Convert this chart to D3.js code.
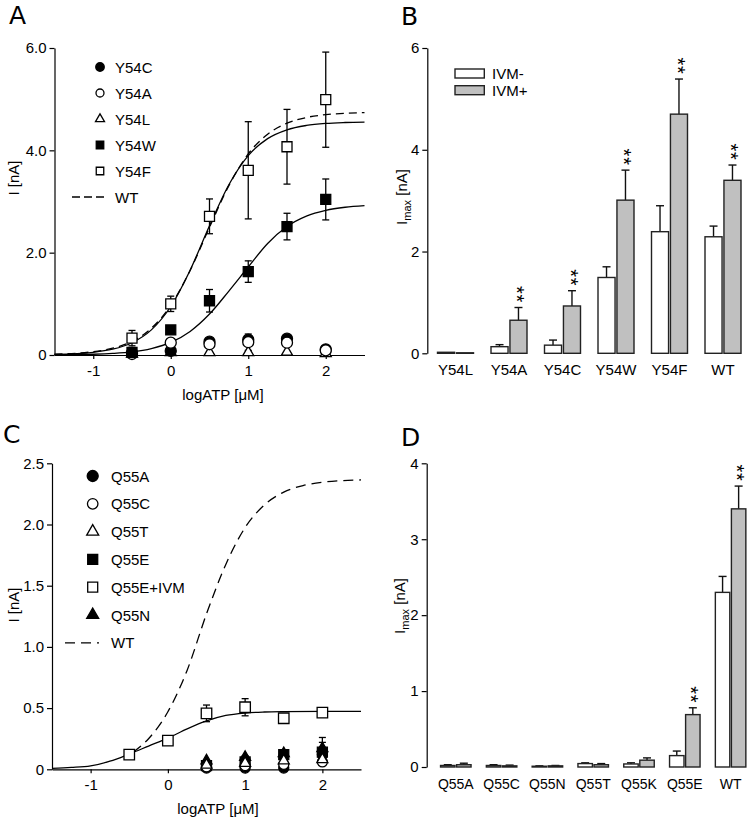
<!DOCTYPE html>
<html><head><meta charset="utf-8">
<script src="https://cdn.jsdelivr.net/npm/d3@7"></script>
<style>body{margin:0;background:#fff}svg{display:block}</style>
</head><body>
<script>
// ================= DATA =================
const doseX = [-0.5, 0, 0.5, 1, 1.5, 2];
const doseTicks = [-1, 0, 1, 2];

// ---- Panel A (Y54 mutants, I [nA]) ----
const Y54C = [0.04, 0.08, 0.26, 0.30, 0.32, 0.11];
const Y54A = [0.02, 0.24, 0.21, 0.25, 0.24, 0.09];
const Y54L = [0.02, 0.05, 0.05, 0.05, 0.06, 0.03];
const Y54W = [0.05, 0.49, 1.06, 1.63, 2.51, 3.04];
const Y54F = [0.33, 1.00, 2.71, 3.61, 4.07, 4.99];
const Y54A_err = [0, 0, 0.06, 0.16, 0.05, 0];
const Y54W_err = [0, 0, 0.22, 0.21, 0.26, 0.40];
const Y54F_err = [0.15, 0.15, 0.34, 0.95, 0.73, 0.93];
const yTicksA = [0, 2, 4, 6];
// fitted curves
const fitX_A = [-1.5, -1, -0.75, -0.5, -0.25, 0, 0.25, 0.5, 0.75, 1, 1.25, 1.5, 1.75, 2, 2.25, 2.5];
const fitWT_A = [0.015, 0.065, 0.132, 0.267, 0.523, 0.971, 1.652, 2.496, 3.310, 3.929, 4.315, 4.530, 4.642, 4.697, 4.724, 4.738];
const fitY54F = [0.011, 0.053, 0.113, 0.240, 0.491, 0.948, 1.658, 2.527, 3.328, 3.897, 4.229, 4.402, 4.486, 4.526, 4.544, 4.553];
const fitY54W = [0.004, 0.015, 0.030, 0.060, 0.125, 0.245, 0.46, 0.80, 1.25, 1.72, 2.179, 2.510, 2.714, 2.828, 2.888, 2.919];

// ---- Panel B (Imax, Y54) ----
const catsB = ["Y54L", "Y54A", "Y54C", "Y54W", "Y54F", "WT"];
const ivmMinusB = [0.02, 0.13, 0.16, 1.49, 2.39, 2.29];
const ivmMinusErrB = [0, 0.04, 0.10, 0.21, 0.51, 0.21];
const ivmPlusB = [0.01, 0.65, 0.93, 3.01, 4.70, 3.40];
const ivmPlusErrB = [0, 0.25, 0.30, 0.59, 0.69, 0.30];
const sigB = [false, true, true, true, true, true];
const yTicksB = [0, 2, 4, 6];
const groupsIVM = ["IVM-", "IVM+"];

// ---- Panel C (Q55 mutants, I [nA]) ----
const Q55A = [null, null, 0.01, 0.01, 0.01, 0.12];
const Q55C = [null, null, 0.02, 0.03, 0.04, 0.06];
const Q55T = [null, null, 0.035, 0.05, 0.07, 0.08];
const Q55E = [null, null, 0.03, 0.06, 0.12, 0.14];
const Q55E_err = [0, 0, 0, 0, 0.02, 0.08];
const Q55E_IVM = [0.12, 0.235, 0.457, 0.507, 0.417, 0.463];
const Q55E_IVM_err = [0.01, 0.035, 0.068, 0.07, 0.025, 0.035];
const Q55N = [null, null, 0.07, 0.10, 0.13, 0.17];
const Q55N_err = [0, 0, 0, 0.01, 0.02, 0.09];
const yTicksC = [0, 0.5, 1.0, 1.5, 2.0, 2.5];
const fitX_C = [-1.5, -1.25, -1, -0.75, -0.5, -0.25, 0, 0.25, 0.5, 0.75, 1, 1.25, 1.5, 2, 2.5];
const fitQ55E_IVM = [0.008, 0.015, 0.028, 0.066, 0.125, 0.19, 0.255, 0.33, 0.395, 0.44, 0.46, 0.468, 0.471, 0.473, 0.473];
const fitX_WT_C = [-0.45, -0.25, 0, 0.25, 0.5, 0.75, 1, 1.25, 1.5, 1.75, 2, 2.25, 2.5];
const fitWT_C = [0.14, 0.25, 0.47, 0.81, 1.27, 1.674, 1.975, 2.16, 2.265, 2.318, 2.345, 2.358, 2.364];

// ---- Panel D (Imax, Q55) ----
const catsD = ["Q55A", "Q55C", "Q55N", "Q55T", "Q55K", "Q55E", "WT"];
const ivmMinusD = [0.02, 0.02, 0.01, 0.045, 0.04, 0.15, 2.30];
const ivmMinusErrD = [0.01, 0.01, 0.005, 0.01, 0.015, 0.06, 0.21];
const ivmPlusD = [0.03, 0.015, 0.015, 0.03, 0.09, 0.69, 3.40];
const ivmPlusErrD = [0.02, 0.01, 0.005, 0.015, 0.03, 0.09, 0.30];
const sigD = [false, false, false, false, false, true, true];
const yTicksD = [0, 1, 2, 3, 4];

// ================= DRAWING =================
const FONT = "'Liberation Sans', Arial, Helvetica, sans-serif";
const svg = d3.select("body").append("svg").attr("width", 750).attr("height", 822)
  .style("font-family", FONT);

function symPath(type, px) {
  if (type === "circle") return d3.symbol(d3.symbolCircle, Math.PI * px * px / 4)();
  if (type === "square") return d3.symbol(d3.symbolSquare, px * px)();
  return d3.symbol(d3.symbolTriangle, Math.sqrt(3) / 4 * px * px)();
}

function styleAxis(g, fs) {
  g.selectAll("text").attr("font-size", fs).attr("fill", "#000").style("font-family", FONT);
  g.selectAll("line").attr("stroke", "#000").attr("stroke-width", 1.2);
  g.select(".domain").attr("stroke", "#000").attr("stroke-width", 1.2);
}

function panelLabel(txt, x, y) {
  svg.append("text").attr("x", x).attr("y", y).text(txt)
    .attr("font-size", 25).style("font-family", "'DejaVu Sans', sans-serif").attr("fill", "#000");
}

function yTitle(x, y, sub) {
  const t = svg.append("text").attr("transform", `translate(${x},${y}) rotate(-90)`)
    .attr("text-anchor", "middle").attr("font-size", 15).attr("fill", "#000");
  t.append("tspan").text("I");
  if (sub) {
    t.append("tspan").text("max").attr("font-size", 11).attr("dy", 4);
    t.append("tspan").text(" [nA]").attr("dy", -4);
  } else {
    t.append("tspan").text(" [nA]");
  }
}

function xTitle(x, y) {
  svg.append("text").attr("x", x).attr("y", y).attr("text-anchor", "middle")
    .attr("font-size", 15).attr("fill", "#000").text("logATP [μM]");
}

function errBars(g, xs, ys, errs, x, y, cap) {
  xs.forEach((xv, i) => {
    const v = ys[i], e = errs ? errs[i] : 0;
    if (v == null || !e) return;
    const cx = x(xv), y1 = y(v + e), y2 = y(Math.max(0, v - e));
    g.append("line").attr("x1", cx).attr("x2", cx).attr("y1", y1).attr("y2", y2)
      .attr("stroke", "#000").attr("stroke-width", 1.3);
    [y1, y2].forEach(yy => g.append("line").attr("x1", cx - cap / 2).attr("x2", cx + cap / 2)
      .attr("y1", yy).attr("y2", yy).attr("stroke", "#000").attr("stroke-width", 1.3));
  });
}

function markers(g, xs, ys, type, filled, px, x, y) {
  xs.forEach((xv, i) => {
    const v = ys[i];
    if (v == null) return;
    g.append("path").attr("d", symPath(type, px))
      .attr("transform", `translate(${x(xv)},${y(v)})`)
      .attr("fill", filled ? "#000" : "#fff").attr("stroke", "#000").attr("stroke-width", 1.3);
  });
}

function curve(g, xs, ys, x, y, dash) {
  const pts = xs.map((d, i) => [d, ys[i]]);
  g.append("path").datum(pts)
    .attr("d", d3.line().x(d => x(d[0])).y(d => y(d[1])).curve(d3.curveMonotoneX))
    .attr("fill", "none").attr("stroke", "#000").attr("stroke-width", 1.3)
    .attr("stroke-dasharray", dash || null);
}

function legend(g, items, x0, xText, y0, dy, fs) {
  items.forEach((it, i) => {
    const yy = y0 + i * dy;
    if (it.type === "dash") {
      g.append("line").attr("x1", it.x1).attr("x2", it.x2).attr("y1", yy).attr("y2", yy)
        .attr("stroke", "#000").attr("stroke-width", 1.3).attr("stroke-dasharray", it.dash);
    } else {
      g.append("path").attr("d", symPath(it.type, it.px))
        .attr("transform", `translate(${x0},${yy})`)
        .attr("fill", it.filled ? "#000" : "#fff").attr("stroke", "#000").attr("stroke-width", 1.3);
    }
    g.append("text").attr("x", xText).attr("y", yy + 5.5).attr("font-size", fs).attr("fill", "#000").text(it.name);
  });
}

// ---------- Panel A ----------
{
  const x = d3.scaleLinear().domain([-1.5, 2.5]).range([54.5, 364.5]);
  const y = d3.scaleLinear().domain([0, 6]).range([355, 48]);
  const g = svg.append("g");
  g.append("g").attr("transform", "translate(0,355)")
    .call(d3.axisBottom(x).tickValues(doseTicks).tickFormat(d => String(d)).tickSize(4).tickPadding(6).tickSizeOuter(0))
    .call(a => styleAxis(a, 15));
  g.append("g").attr("transform", "translate(54.5,0)")
    .call(d3.axisLeft(y).tickValues(yTicksA).tickFormat(d => d === 0 ? "0" : d3.format(".1f")(d)).tickSize(5).tickPadding(3).tickSizeOuter(0))
    .call(a => styleAxis(a, 15));
  curve(g, fitX_A, fitWT_A, x, y, "8,5");
  curve(g, fitX_A, fitY54F, x, y);
  curve(g, fitX_A, fitY54W, x, y);
  errBars(g, doseX, Y54A, Y54A_err, x, y, 7);
  errBars(g, doseX, Y54W, Y54W_err, x, y, 7);
  errBars(g, doseX, Y54F, Y54F_err, x, y, 7);
  markers(g, doseX, Y54L, "triangle", false, 11, x, y);
  markers(g, doseX, Y54C, "circle", true, 11, x, y);
  markers(g, doseX, Y54A, "circle", false, 11, x, y);
  markers(g, doseX, Y54W, "square", true, 10, x, y);
  markers(g, doseX, Y54F, "square", false, 10, x, y);
  legend(g, [
    {name: "Y54C", type: "circle", filled: true, px: 8.5},
    {name: "Y54A", type: "circle", filled: false, px: 8},
    {name: "Y54L", type: "triangle", filled: false, px: 9},
    {name: "Y54W", type: "square", filled: true, px: 7.5},
    {name: "Y54F", type: "square", filled: false, px: 7.5},
    {name: "WT", type: "dash", x1: 72, x2: 104, dash: "8,4"}
  ], 100, 115, 67, 26, 15);
  panelLabel("A", 9, 24);
  yTitle(19, 178, false);
  xTitle(223, 400);
}

// ---------- Bar panels ----------
function barPanel(cats, minus, minusErr, plus, plusErr, sig, xr, pairW, y, yTicks, labPad, catFs, axisX) {
  const g = svg.append("g");
  const x0 = d3.scaleBand().domain(cats).range(xr);
  const x1 = d3.scaleBand().domain(groupsIVM).range([0, pairW]).paddingInner(0.1);
  const off = x0.bandwidth() / 2 - pairW / 2;
  const y0 = y(0);
  // category labels
  g.append("g").attr("transform", `translate(0,${y0})`)
    .call(d3.axisBottom(x0).tickSize(0).tickPadding(labPad))
    .call(a => { a.select(".domain").remove(); styleAxis(a, catFs); });
  g.append("g").attr("transform", `translate(${axisX},0)`)
    .call(d3.axisLeft(y).tickValues(yTicks).tickFormat(d3.format("d")).tickSize(5).tickPadding(3).tickSizeOuter(0))
    .call(a => styleAxis(a, 15));
  const bw = x1.bandwidth();
  const series = [[minus, minusErr, "#fff"], [plus, plusErr, "#c0c0c0"]];
  cats.forEach((c, i) => {
    series.forEach(([vals, errs, fill], k) => {
      const bx = x0(c) + off + x1(groupsIVM[k]);
      const v = vals[i], e = errs[i];
      const cx = bx + bw / 2;
      if (e) {
        g.append("line").attr("x1", cx).attr("x2", cx).attr("y1", y(v)).attr("y2", y(v + e))
          .attr("stroke", "#111").attr("stroke-width", 1.4);
        g.append("line").attr("x1", cx - 4).attr("x2", cx + 4).attr("y1", y(v + e)).attr("y2", y(v + e))
          .attr("stroke", "#111").attr("stroke-width", 1.4);
      }
      g.append("rect").attr("x", bx).attr("y", y(v)).attr("width", bw).attr("height", y0 - y(v))
        .attr("fill", fill).attr("stroke", "#222").attr("stroke-width", 1.4);
      if (k === 1 && sig[i]) {
        const top = y(v + e);
        // "**" set vertically (one text, rotated) so the two stars stack
        g.append("text").attr("transform", `translate(${cx - 8.4},${top - 13}) rotate(90)`)
          .attr("text-anchor", "middle").attr("font-size", 20).attr("fill", "#000")
          .attr("letter-spacing", 0.8).text("**");
      }
    });
  });
  return g;
}

// ---------- Panel B ----------
{
  const y = d3.scaleLinear().domain([0, 6]).range([353.3, 48]);
  const g = barPanel(catsB, ivmMinusB, ivmMinusErrB, ivmPlusB, ivmPlusErrB, sigB,
    [428.75, 749.75], 36, y, yTicksB, 11, 15, 427.3);
  const lg = [["IVM-", "#fff", 69], ["IVM+", "#c0c0c0", 85.7]];
  lg.forEach(([name, fill, yy]) => {
    g.append("rect").attr("x", 455).attr("y", yy).attr("width", 29.3).attr("height", 9)
      .attr("fill", fill).attr("stroke", "#222").attr("stroke-width", 1.4);
    g.append("text").attr("x", 492).attr("y", yy + 10).attr("font-size", 15).attr("fill", "#000").text(name);
  });
  panelLabel("B", 401, 25);
  yTitle(407, 197, true);
}

// ---------- Panel C ----------
{
  const x = d3.scaleLinear().domain([-1.5, 2.5]).range([52, 361]);
  const y = d3.scaleLinear().domain([0, 2.5]).range([769.3, 463.3]);
  const g = svg.append("g");
  g.append("g").attr("transform", "translate(0,769.3)")
    .call(d3.axisBottom(x).tickValues(doseTicks).tickFormat(d => String(d)).tickSize(4).tickPadding(6).tickSizeOuter(0))
    .call(a => styleAxis(a, 15));
  g.append("g").attr("transform", "translate(52,0)")
    .call(d3.axisLeft(y).tickValues(yTicksC).tickFormat(d => d === 0 ? "0" : d3.format(".1f")(d)).tickSize(5).tickPadding(3).tickSizeOuter(0))
    .call(a => styleAxis(a, 15));
  curve(g, fitX_WT_C, fitWT_C, x, y, "10,6");
  curve(g, fitX_C, fitQ55E_IVM, x, y);
  errBars(g, doseX, Q55N, Q55N_err, x, y, 7);
  errBars(g, doseX, Q55E, Q55E_err, x, y, 7);
  errBars(g, doseX, Q55E_IVM, Q55E_IVM_err, x, y, 7);
  markers(g, doseX, Q55N, "triangle", true, 11, x, y);
  markers(g, doseX, Q55E, "square", true, 10, x, y);
  markers(g, doseX, Q55A, "circle", true, 10, x, y);
  markers(g, doseX, Q55C, "circle", false, 10, x, y);
  markers(g, doseX, Q55T, "triangle", false, 11, x, y);
  markers(g, doseX, Q55E_IVM, "square", false, 10.5, x, y);
  legend(g, [
    {name: "Q55A", type: "circle", filled: true, px: 11},
    {name: "Q55C", type: "circle", filled: false, px: 10.5},
    {name: "Q55T", type: "triangle", filled: false, px: 12},
    {name: "Q55E", type: "square", filled: true, px: 10},
    {name: "Q55E+IVM", type: "square", filled: false, px: 10},
    {name: "Q55N", type: "triangle", filled: true, px: 12},
    {name: "WT", type: "dash", x1: 65, x2: 99, dash: "10,6"}
  ], 92.7, 111, 476, 27.8, 15);
  panelLabel("C", 3, 443);
  yTitle(19, 605, false);
  xTitle(218, 814);
}

// ---------- Panel D ----------
{
  const y = d3.scaleLinear().domain([0, 4]).range([767, 463.3]);
  barPanel(catsD, ivmMinusD, ivmMinusErrD, ivmPlusD, ivmPlusErrD, sigD,
    [432.9, 753.5], 30.5, y, yTicksD, 12, 14, 426.7);
  panelLabel("D", 401, 446);
  yTitle(405, 606, true);
}
</script>
</body></html>
